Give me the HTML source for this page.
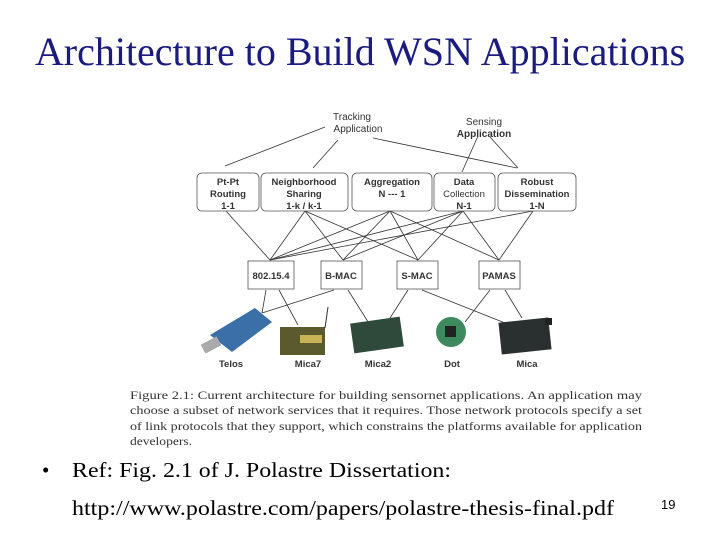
<!DOCTYPE html>
<html><head><style>
body{margin:0;width:720px;height:540px;background:#fff;overflow:hidden;position:relative;font-family:"Liberation Serif",serif}
.t{position:absolute;left:0;width:720px;text-align:center;top:28px;font-size:40px;color:#1a1a80;white-space:nowrap}
.n{position:absolute;left:661px;top:497px;font-size:13px;font-family:"Liberation Sans",sans-serif}
</style></head><body>
<div class="t">Architecture to Build WSN Applications</div>
<svg width="720" height="540" style="position:absolute;left:0;top:0" font-family="Liberation Sans, sans-serif">
<g font-size="10" fill="#333" text-anchor="middle">
<text x="352" y="120">Tracking</text><text x="358" y="132">Application</text>
<text x="484" y="125">Sensing</text><text x="484" y="137" font-weight="bold">Application</text>
</g>
<g stroke="#333" stroke-width="0.8" fill="none">
<line x1="325" y1="127" x2="225" y2="166"/><line x1="338" y1="140" x2="313" y2="168"/>
<line x1="373" y1="138" x2="517" y2="168"/><line x1="478" y1="136" x2="462" y2="172"/><line x1="490" y1="137" x2="518" y2="168"/>
<line x1="226" y1="211" x2="270" y2="260"/>
<line x1="305" y1="211" x2="270" y2="260"/><line x1="305" y1="211" x2="343" y2="260"/><line x1="305" y1="211" x2="418" y2="260"/>
<line x1="390" y1="211" x2="270" y2="260"/><line x1="390" y1="211" x2="343" y2="260"/><line x1="390" y1="211" x2="418" y2="260"/><line x1="390" y1="211" x2="499" y2="260"/>
<line x1="463" y1="211" x2="270" y2="260"/><line x1="463" y1="211" x2="343" y2="260"/><line x1="463" y1="211" x2="418" y2="260"/><line x1="463" y1="211" x2="499" y2="260"/>
<line x1="533" y1="211" x2="270" y2="260"/><line x1="533" y1="211" x2="499" y2="260"/>
<line x1="266" y1="290" x2="262" y2="313"/><line x1="279" y1="290" x2="298" y2="325"/>
<line x1="334" y1="290" x2="262" y2="313"/><line x1="348" y1="290" x2="370" y2="325"/>
<line x1="408" y1="290" x2="390" y2="318"/><line x1="422" y1="290" x2="510" y2="325"/>
<line x1="490" y1="290" x2="465" y2="322"/><line x1="505" y1="290" x2="522" y2="318"/>
</g>
<g stroke="#555" stroke-width="0.8" fill="#fff">
<rect x="197" y="173" width="62" height="38" rx="5"/><rect x="261" y="173" width="87" height="38" rx="5"/>
<rect x="352" y="173" width="80" height="38" rx="5"/><rect x="434" y="173" width="61" height="38" rx="5"/>
<rect x="498" y="173" width="78" height="38" rx="5"/>
<rect x="248" y="261" width="46" height="28"/><rect x="321" y="261" width="41" height="28"/>
<rect x="397" y="261" width="41" height="28"/><rect x="479" y="261" width="41" height="28"/>
</g>
<g font-size="9.5" fill="#333" text-anchor="middle" font-weight="bold">
<text x="228" y="185">Pt-Pt</text><text x="228" y="197">Routing</text><text x="228" y="209">1-1</text>
<text x="304" y="185">Neighborhood</text><text x="304" y="197">Sharing</text><text x="304" y="209">1-k / k-1</text>
<text x="392" y="185">Aggregation</text><text x="392" y="197">N --- 1</text>
<text x="464" y="185">Data</text><text x="464" y="197" font-weight="normal">Collection</text><text x="464" y="209">N-1</text>
<text x="537" y="185">Robust</text><text x="537" y="197">Dissemination</text><text x="537" y="209">1-N</text>
<text x="271" y="279">802.15.4</text><text x="341" y="279">B-MAC</text><text x="417" y="279">S-MAC</text><text x="499" y="279">PAMAS</text>
<text x="231" y="367">Telos</text><text x="308" y="367">Mica7</text><text x="378" y="367">Mica2</text><text x="452" y="367">Dot</text><text x="527" y="367">Mica</text>
</g>
<polygon points="210,335 255,308 272,322 232,352" fill="#3a6fa8"/>
<rect x="202" y="340" width="18" height="10" fill="#aaa" transform="rotate(-28 211 345)"/>
<rect x="280" y="327" width="45" height="28" fill="#5b5a2e"/><rect x="300" y="335" width="22" height="8" fill="#c9b356"/>
<line x1="325" y1="328" x2="328" y2="307" stroke="#333"/>
<rect x="352" y="320" width="50" height="30" fill="#2f4a3a" transform="rotate(-8 377 335)"/>
<circle cx="451" cy="332" r="15" fill="#3c8a5e"/><rect x="445" y="326" width="11" height="11" fill="#222"/>
<rect x="500" y="320" width="50" height="32" fill="#2a3030" transform="rotate(-6 525 336)"/>
<rect x="545" y="318" width="7" height="7" fill="#222"/>
<g font-family="Liberation Serif, serif" font-size="12" fill="#333">
<text x="130" y="399" textLength="512" lengthAdjust="spacingAndGlyphs">Figure 2.1: Current architecture for building sensornet applications. An application may</text>
<text x="130" y="414" textLength="512" lengthAdjust="spacingAndGlyphs">choose a subset of network services that it requires. Those network protocols specify a set</text>
<text x="130" y="430" textLength="512" lengthAdjust="spacingAndGlyphs">of link protocols that they support, which constrains the platforms available for application</text>
<text x="130" y="445" textLength="62" lengthAdjust="spacingAndGlyphs">developers.</text>
</g>
<g font-family="Liberation Serif, serif" font-size="21" fill="#000">
<text x="42" y="477">•</text>
<text x="72" y="477" textLength="379" lengthAdjust="spacingAndGlyphs">Ref: Fig. 2.1 of J. Polastre Dissertation:</text>
<text x="72" y="515" textLength="542" lengthAdjust="spacingAndGlyphs">http://www.polastre.com/papers/polastre-thesis-final.pdf</text>
</g>
</svg>
<div class="n">19</div>
</body></html>
